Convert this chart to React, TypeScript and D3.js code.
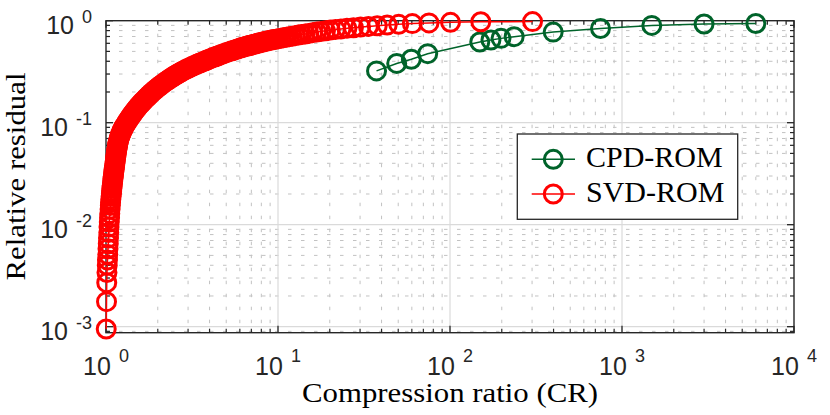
import React from 'react';
import * as d3 from 'd3';

// ---- data ----
const svdCR = [302,151,100.7,75.5,60.4,50.33,43.14,37.75,33.56,30.2,27.45,25.17,23.23,21.57,20.13,18.88,17.76,16.78,15.89,15.1,14.38,13.73,13.13,12.58,12.08,11.62,11.19,10.79,10.41,10.07,9.742,9.438,9.152,8.882,8.629,8.389,8.162,7.947,7.744,7.55,7.366,7.19,7.023,6.864,6.711,6.565,6.426,6.292,6.163,6.04,
  5.808,5.593,5.393,5.207,5.033,4.871,4.719,4.576,4.441,4.314,4.194,4.081,3.974,3.872,3.775,
  3.639,3.512,3.393,3.283,3.179,3.082,2.99,2.904,2.822,2.745,2.673,2.603,2.538,2.475,2.416,
  2.341,2.271,2.204,2.142,2.083,2.027,1.974,1.924,1.876,1.83,1.787,1.746,1.706,1.669,1.632,1.598,1.565,1.533,1.502,1.473,1.445,1.418,1.392,1.367,1.342,1.319,1.296,1.274,
  1.258,1.248,1.238,1.228,1.218,1.208,1.198,1.189,
  1.18,1.175,1.171,1.166,1.162,1.157,1.153,1.148,1.144,1.14,1.135,1.131,1.127,1.123,1.119,1.114,1.11,1.106,1.102,1.098,1.094,1.09,1.086,1.082,1.079,1.075,1.071,1.067,1.063,1.06,1.056,1.052,1.049,1.045,1.041,1.038,1.034,1.031,1.027,1.024,1.02,1.017,1.013,1.01,1.007,1.003];

const svdRes = [0.98,0.9755,0.9645,0.9515,0.9366,0.9219,0.9076,0.8932,0.8793,0.8656,0.8538,0.8422,0.8309,0.8197,0.8087,0.796,0.7836,0.7731,0.7627,0.7508,0.7407,
  0.7316,0.7226,0.7137,0.7049,0.697,0.6892,0.6815,0.6738,0.6663,0.6596,0.6529,0.6463,0.6398,0.6326,0.6255,0.6185,0.6115,0.6047,0.5979,0.5912,0.5852,0.5793,0.5734,0.5676,0.5619,0.5562,0.5506,0.545,0.5395,
  0.5279,0.5173,0.5069,0.4967,0.4867,0.4775,0.4684,0.4595,0.4507,0.4427,0.4348,0.427,0.4194,0.4119,0.4045,
  0.3946,0.3849,0.3755,0.3663,0.3573,0.3485,0.34,0.3317,0.3235,0.3156,0.3079,0.3003,0.2923,0.2851,0.2775,
  0.2682,0.2587,0.25,0.2412,0.2331,0.2249,0.2169,0.2092,0.2018,0.1942,0.1869,0.1798,0.1731,0.1666,0.1603,0.1543,0.1485,0.1425,0.1368,0.1311,0.1256,0.1203,0.1153,0.1102,0.1053,0.1005,0.0958,0.0913,
  0.0877,0.0852,0.0827,0.0801,0.0775,0.0747,0.0719,0.0689,
  0.0657,0.0637,0.0616,0.0594,0.0571,0.055,0.0528,0.0506,0.0483,0.0461,0.044,0.0419,0.04,0.0381,0.0364,0.0346,0.0329,0.0313,0.0297,0.0283,0.0268,0.0254,0.024,0.0226,0.0214,0.0201,0.019,0.0178,0.0166,0.0154,0.0142,0.0129,0.0117,0.0106,0.0095,0.0084,0.0074,0.0065,0.0058,0.0051,0.0045,0.004,0.0034,0.0027,0.00176,0.00095];

const cpdCR = [37.4,49,59.6,74.2,149,173,198,236,398,750,1490,3000,6000];
const cpdRes = [0.322,0.381,0.419,0.475,0.618,0.647,0.671,0.697,0.773,0.839,0.899,0.928,0.939];

const xTickVals = [1,10,100,1000,10000];
const xTickExp = ['0','1','2','3','4'];
const yTickVals = [0.001,0.01,0.1,1];
const yTickExp = ['-3','-2','-1','0'];

const seriesNames = ['CPD-ROM','SVD-ROM'];
const seriesColors = ['#00632a','#ff0000'];

const xLabel = 'Compression ratio (CR)';
const yLabel = 'Relative residual';

export default function App() {
  const L = 106, R = 794, T = 20.7, B = 332.7;
  const x = d3.scaleLog().domain([1, 1e4]).range([L, R]);
  const y = d3.scaleLog().domain([0.000873, 1]).range([B, T]);

  const xMinor: number[] = [];
  [1, 10, 100, 1000].forEach(d => { for (let k = 2; k <= 9; k++) xMinor.push(d * k); });
  const yMinor: number[] = [];
  [0.0001, 0.001, 0.01, 0.1].forEach(d => { for (let k = 2; k <= 9; k++) { const v = d * k; if (v >= 0.000873 && v < 1) yMinor.push(v); } });

  const line = d3.line<[number, number]>().x(d => x(d[0])).y(d => y(d[1]));
  const svdPts: [number, number][] = svdCR.map((c, i) => [c, svdRes[i]]);
  const cpdPts: [number, number][] = cpdCR.map((c, i) => [c, cpdRes[i]]);

  const axisCol = '#262626';
  const majLen = 7, minLen = 4;
  const mR = 9, mW = 3;
  const sans = "'Liberation Sans', Arial, sans-serif";
  const serif = "'Liberation Serif', 'Times New Roman', serif";

  return (
    <svg width={830} height={415} style={{ position: 'absolute', left: 0, top: 0, background: '#fff' }}>
      <rect x={0} y={0} width={830} height={415} fill="#fff" />
      {/* minor grid */}
      {xMinor.map((v, i) => (
        <line key={'xm' + i} x1={x(v)} x2={x(v)} y1={T} y2={B} stroke="#c2c2c2" strokeWidth={1} strokeDasharray="3.5,9.5" />
      ))}
      {yMinor.map((v, i) => (
        <line key={'ym' + i} x1={L} x2={R} y1={y(v)} y2={y(v)} stroke="#c2c2c2" strokeWidth={1} strokeDasharray="3.5,9.5" />
      ))}
      {/* major grid */}
      {xTickVals.slice(1, -1).map((v, i) => (
        <line key={'xg' + i} x1={x(v)} x2={x(v)} y1={T} y2={B} stroke="#dadada" strokeWidth={1.2} />
      ))}
      {yTickVals.slice(0, -1).map((v, i) => (
        <line key={'yg' + i} x1={L} x2={R} y1={y(v)} y2={y(v)} stroke="#dadada" strokeWidth={1.2} />
      ))}
      {/* ticks */}
      {xTickVals.map((v, i) => (
        <g key={'xt' + i}>
          <line x1={x(v)} x2={x(v)} y1={B} y2={B - majLen} stroke={axisCol} strokeWidth={1.3} />
          <line x1={x(v)} x2={x(v)} y1={T} y2={T + majLen} stroke={axisCol} strokeWidth={1.3} />
        </g>
      ))}
      {xMinor.map((v, i) => (
        <g key={'xmt' + i}>
          <line x1={x(v)} x2={x(v)} y1={B} y2={B - minLen} stroke={axisCol} strokeWidth={1.2} />
          <line x1={x(v)} x2={x(v)} y1={T} y2={T + minLen} stroke={axisCol} strokeWidth={1.2} />
        </g>
      ))}
      {yTickVals.map((v, i) => (
        <g key={'yt' + i}>
          <line x1={L} x2={L + majLen} y1={y(v)} y2={y(v)} stroke={axisCol} strokeWidth={1.3} />
          <line x1={R} x2={R - majLen} y1={y(v)} y2={y(v)} stroke={axisCol} strokeWidth={1.3} />
        </g>
      ))}
      {yMinor.map((v, i) => (
        <g key={'ymt' + i}>
          <line x1={L} x2={L + minLen} y1={y(v)} y2={y(v)} stroke={axisCol} strokeWidth={1.2} />
          <line x1={R} x2={R - minLen} y1={y(v)} y2={y(v)} stroke={axisCol} strokeWidth={1.2} />
        </g>
      ))}
      <rect x={L} y={T} width={R - L} height={B - T} fill="none" stroke={axisCol} strokeWidth={1.4} />

      {/* CPD-ROM */}
      <path d={line(cpdPts) || ''} fill="none" stroke={seriesColors[0]} strokeWidth={1.5} />
      {cpdPts.map((p, i) => (
        <circle key={'c' + i} cx={x(p[0])} cy={y(p[1])} r={mR} fill="none" stroke={seriesColors[0]} strokeWidth={mW} />
      ))}
      {/* SVD-ROM */}
      <path d={line(svdPts) || ''} fill="none" stroke={seriesColors[1]} strokeWidth={1.5} />
      {svdPts.map((p, i) => (
        <circle key={'s' + i} cx={x(p[0])} cy={y(p[1])} r={mR} fill="none" stroke={seriesColors[1]} strokeWidth={mW} />
      ))}

      {/* tick labels */}
      {xTickVals.map((v, i) => (
        <text key={'xl' + i} x={x(v)} y={375} textAnchor="middle" fontFamily={sans} fontSize={25} fill={axisCol}>
          10<tspan dx={8} dy={-13} fontSize={18}>{xTickExp[i]}</tspan>
        </text>
      ))}
      {yTickVals.map((v, i) => (
        <text key={'yl' + i} x={92} y={y(v) + 13.5} textAnchor="end" fontFamily={sans} fontSize={25} fill={axisCol}>
          10<tspan dx={8} dy={-11} fontSize={18}>{yTickExp[i]}</tspan>
        </text>
      ))}

      {/* axis titles */}
      <text x={450} y={402} textAnchor="middle" fontFamily={serif} fontSize={27} fill="#000" textLength={296} lengthAdjust="spacingAndGlyphs">{xLabel}</text>
      <text transform="translate(25,176.5) rotate(-90)" x={0} y={0} textAnchor="middle" fontFamily={serif} fontSize={27} fill="#000" textLength={208} lengthAdjust="spacingAndGlyphs">{yLabel}</text>

      {/* legend */}
      <rect x={517.3} y={134} width={220.4} height={85.3} fill="#fff" stroke={axisCol} strokeWidth={1.3} />
      {seriesNames.map((n, i) => {
        const cy = 159.3 + i * 34.7;
        return (
          <g key={'lg' + i}>
            <line x1={531.7} x2={575} y1={cy} y2={cy} stroke={seriesColors[i]} strokeWidth={1.5} />
            <circle cx={553.3} cy={cy} r={mR} fill="none" stroke={seriesColors[i]} strokeWidth={mW} />
            <text x={586} y={cy + 7.5} fontFamily={serif} fontSize={30} fill="#000">{n}</text>
          </g>
        );
      })}
    </svg>
  );
}
